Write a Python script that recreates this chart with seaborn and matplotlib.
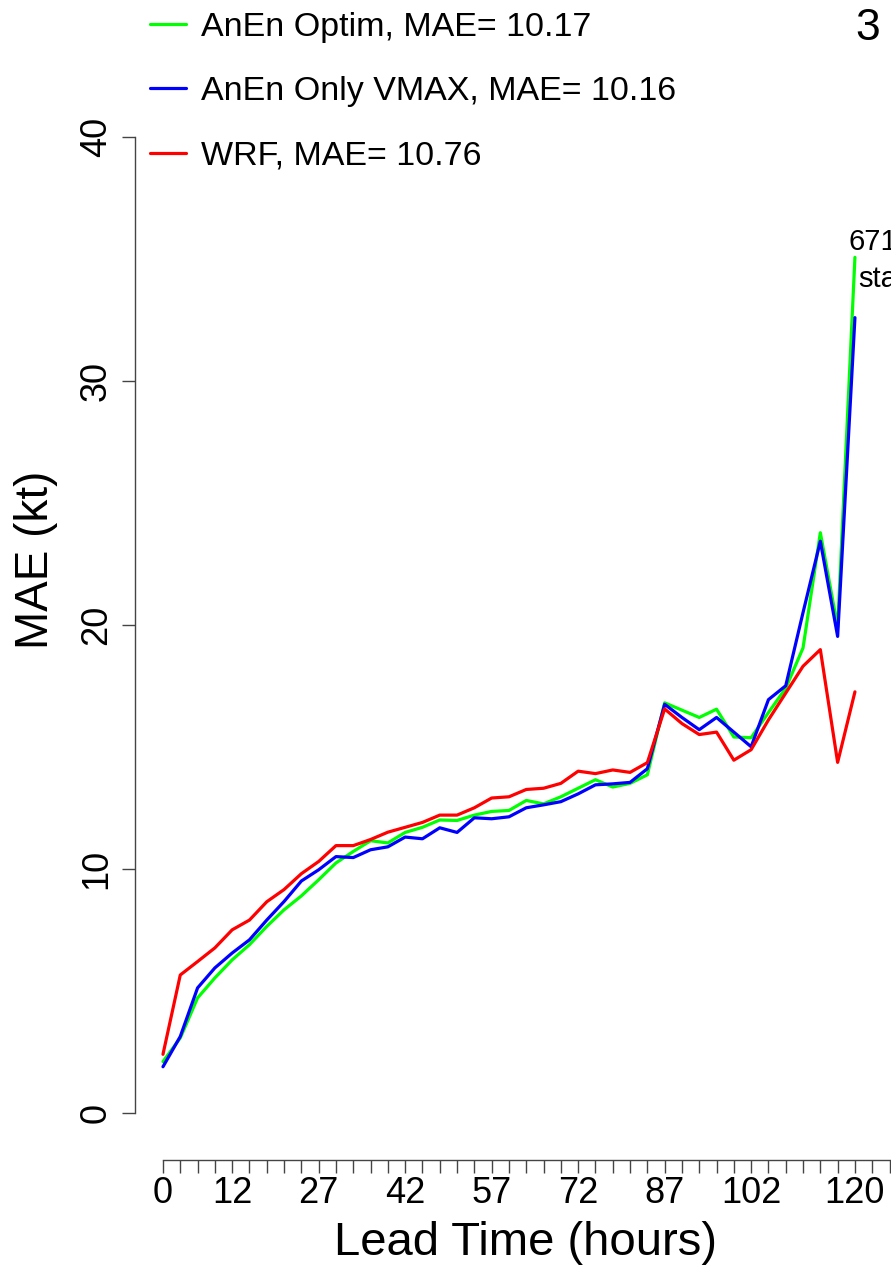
import matplotlib
matplotlib.use("Agg")
import matplotlib.pyplot as plt
import numpy as np
import pandas as pd
import seaborn as sns

# ---------------- data ----------------
lead_hours = list(range(0, 121, 3))

anen_optim = [2.10, 3.07, 4.71, 5.53, 6.27, 6.89, 7.64, 8.32, 8.89, 9.55,
              10.24, 10.71, 11.15, 11.06, 11.49, 11.70, 12.00, 11.98, 12.20, 12.35,
              12.39, 12.80, 12.66, 12.95, 13.30, 13.65, 13.35, 13.50, 13.85, 16.80,
              16.50, 16.20, 16.54, 15.40, 15.37, 16.40, 17.40, 19.05, 23.77, 19.90,
              35.05]

anen_vmax = [1.89, 3.13, 5.12, 5.94, 6.55, 7.09, 7.90, 8.66, 9.50, 9.96,
             10.50, 10.46, 10.78, 10.90, 11.30, 11.23, 11.68, 11.49, 12.09, 12.05,
             12.13, 12.50, 12.62, 12.75, 13.07, 13.44, 13.48, 13.54, 14.10, 16.74,
             16.20, 15.70, 16.20, 15.60, 15.00, 16.93, 17.50, 20.50, 23.42, 19.52,
             32.58]

wrf = [2.40, 5.65, 6.20, 6.76, 7.50, 7.90, 8.65, 9.15, 9.80, 10.30,
       10.95, 10.95, 11.20, 11.50, 11.70, 11.90, 12.20, 12.20, 12.50, 12.90,
       12.95, 13.25, 13.30, 13.50, 14.00, 13.90, 14.05, 13.95, 14.35, 16.55,
       15.95, 15.50, 15.60, 14.45, 14.88, 16.10, 17.20, 18.30, 18.98, 14.36,
       17.25]

series_names = ["AnEn Optim, MAE= 10.17",
                "AnEn Only VMAX, MAE= 10.16",
                "WRF, MAE= 10.76"]
series_colors = ["#00FF00", "#0000FF", "#FF0000"]

x_minor_ticks = list(range(0, 127, 3))
x_labelled = [0, 12, 27, 42, 57, 72, 87, 102, 120]
y_ticks = [0, 10, 20, 30, 40]

x_title = "Lead Time (hours)"
y_title = "MAE (kt)"
panel_tag = "3"
note_line1 = "671"
note_line2 = "stations"

# ---------------- build long table ----------------
df = pd.DataFrame({
    "hour": lead_hours * 3,
    "mae": anen_optim + anen_vmax + wrf,
    "series": [series_names[0]] * len(lead_hours)
              + [series_names[1]] * len(lead_hours)
              + [series_names[2]] * len(lead_hours),
})

sns.set_theme(style="white")
plt.rcParams["font.family"] = ["Liberation Sans", "DejaVu Sans"]
plt.rcParams["text.color"] = "black"
plt.rcParams["axes.labelcolor"] = "black"
plt.rcParams["xtick.color"] = "black"
plt.rcParams["ytick.color"] = "black"

W, H = 891, 1267
fig = plt.figure(figsize=(W / 100, H / 100), dpi=100)
fig.patch.set_facecolor("white")

# axes placement in pixels (R-like plot region, partly off the cropped figure)
x_left_px, x_right_px = 135.3, 895.3
y_bottom_px, y_top_px = 1160.0, -110.0
ax = fig.add_axes([x_left_px / W, (H - y_bottom_px) / H,
                   (x_right_px - x_left_px) / W, (y_bottom_px - y_top_px) / H])
ax.set_facecolor("white")

sns.lineplot(data=df, x="hour", y="mae", hue="series", hue_order=series_names,
             palette=series_colors, linewidth=2.3, ax=ax, legend=True)

ax.set_xlim(-4.8, 127)
ax.set_ylim(-1.93, 50.1)

axis_col = "#444444"
for s in ["top", "right"]:
    ax.spines[s].set_visible(False)
ax.spines["left"].set_bounds(0, 40)
ax.spines["bottom"].set_bounds(0, 126)
for s in ["left", "bottom"]:
    ax.spines[s].set_color(axis_col)
    ax.spines[s].set_linewidth(1.0)

ax.set_xticks(x_minor_ticks)
ax.set_xticklabels([str(h) if h in x_labelled else "" for h in x_minor_ticks])
ax.set_yticks(y_ticks)
ax.set_yticklabels([str(v) for v in y_ticks])
ax.tick_params(axis="x", direction="out", length=9.5, width=1.0, color=axis_col,
               labelcolor="black", labelsize=26, pad=2, bottom=True)
ax.tick_params(axis="y", direction="out", length=9.5, width=1.0, color=axis_col,
               labelcolor="black", labelsize=26, pad=6, left=True)
for lbl in ax.get_yticklabels():
    lbl.set_rotation(90)
    lbl.set_va("center")

ax.grid(False)

ax.set_xlabel(x_title, fontsize=34, color="black")
ax.set_ylabel(y_title, fontsize=33, color="black")
ax.xaxis.label.set_va("center")
ax.yaxis.label.set_va("center")
ax.xaxis.set_label_coords((525 - x_left_px) / (x_right_px - x_left_px),
                          (y_bottom_px - 1243) / (y_bottom_px - y_top_px))
ax.yaxis.set_label_coords((36 - x_left_px) / (x_right_px - x_left_px),
                          (y_bottom_px - 560) / (y_bottom_px - y_top_px))

leg = ax.legend(loc="upper left", bbox_to_anchor=(150 / W, 1 - 12 / H),
                bbox_transform=fig.transFigure, frameon=False, fontsize=24.5,
                handlelength=1.05, handletextpad=0.45, labelspacing=0.98,
                borderpad=0, borderaxespad=0)
for line in leg.get_lines():
    line.set_linewidth(2.3)
for t in leg.get_texts():
    t.set_color("black")

fig.text(855 / W, 1 - 8 / H, panel_tag, fontsize=32, ha="left", va="top", color="black")
fig.text(849 / W, 1 - 228 / H, note_line1, fontsize=21, ha="left", va="top", color="black")
fig.text(858 / W, 1 - 265 / H, note_line2, fontsize=21, ha="left", va="top", color="black")

fig.savefig("out.png", dpi=100, facecolor="white")
